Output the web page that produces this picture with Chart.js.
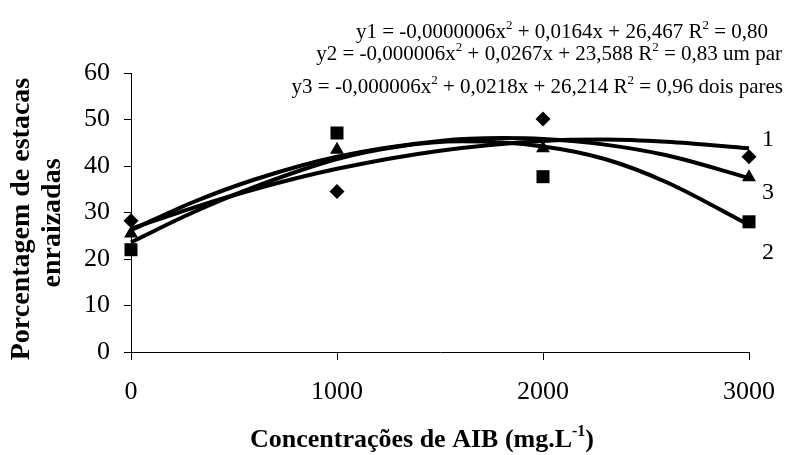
<!DOCTYPE html>
<html lang="pt">
<head>
  <meta charset="UTF-8">
  <title>Porcentagem de estacas enraizadas</title>
  <script src="https://cdn.jsdelivr.net/npm/chart.js"></script>
  <style>
    html, body { margin: 0; padding: 0; background: #fff; }
  </style>
</head>
<body>
  <canvas id="rootChart" width="785" height="455"></canvas>
  <script>
    const doses = [0, 1000, 2000, 3000];
    const semPar = [28.2, 34.5, 50.1, 42.0];     // series 1, diamonds
    const umPar = [22.0, 47.1, 37.7, 28.0];      // series 2, squares
    const doisPares = [25.5, 43.5, 43.8, 37.6];  // series 3, triangles

    // trend curves, sampled from the figure
    const curve1X = [0, 300, 600, 1000, 1500, 2000, 2300, 2600, 3000];
    const curve1 = [26.5, 31.0, 35.0, 39.4, 43.3, 45.4, 45.7, 45.2, 43.8];
    const curve2X = [0, 300, 600, 1000, 1300, 1600, 2000, 2300, 2600, 3000];
    const curve2 = [23.6, 30.0, 35.5, 41.5, 44.2, 45.3, 44.2, 41.5, 36.5, 27.3];
    const curve3X = [0, 300, 600, 1000, 1500, 1800, 2000, 2300, 2600, 3000];
    const curve3 = [26.2, 32.2, 37.1, 42.0, 45.4, 46.0, 45.8, 44.6, 42.3, 37.4];

    const curveNames = ['1', '2', '3'];
    const curveLabelY = [45.6, 21.3, 34.2];

    const xTicks = [0, 1000, 2000, 3000];

    const equations = [
      [['y1 = -0,0000006x'], ['2', true], [' + 0,0164x + 26,467 R'], ['2', true], [' = 0,80']],
      [['y2 = -0,000006x'], ['2', true], [' + 0,0267x + 23,588 R'], ['2', true], [' = 0,83 um par']],
      [['y3 = -0,000006x'], ['2', true], [' + 0,0218x + 26,214 R'], ['2', true], [' = 0,96 dois pares']]
    ];

    const serif = '"Liberation Serif", "Times New Roman", serif';

    function pts(xs, ys) {
      return xs.map((x, i) => ({ x: x, y: ys[i] }));
    }

    function richWidth(ctx, parts, size, bold) {
      const w = bold ? 'bold ' : '';
      let total = 0;
      parts.forEach(p => {
        ctx.font = w + (p[1] ? Math.round(size * 0.62) : size) + 'px ' + serif;
        total += ctx.measureText(p[0]).width;
      });
      return total;
    }

    // draws text pieces with superscripts, starting at x
    function drawRich(ctx, parts, x, y, size, bold) {
      const w = bold ? 'bold ' : '';
      ctx.textAlign = 'left';
      ctx.textBaseline = 'alphabetic';
      parts.forEach(p => {
        ctx.font = w + (p[1] ? Math.round(size * 0.62) : size) + 'px ' + serif;
        ctx.fillText(p[0], x, p[1] ? y - size * 0.42 : y);
        x += ctx.measureText(p[0]).width;
      });
    }

    const annotations = {
      id: 'annotations',
      afterDraw(chart) {
        const ctx = chart.ctx;
        const xs = chart.scales.x, ys = chart.scales.y;
        ctx.save();
        ctx.fillStyle = '#000';

        // equations, right aligned, top right
        const eqRight = [768, 782, 783];
        const eqBase = [38, 60, 93];
        equations.forEach((eq, i) => {
          const w = richWidth(ctx, eq, 21, false);
          drawRich(ctx, eq, eqRight[i] - w, eqBase[i], 21, false);
        });

        // curve numbers
        ctx.font = '24px ' + serif;
        ctx.textAlign = 'left';
        ctx.textBaseline = 'middle';
        curveNames.forEach((n, i) => {
          ctx.fillText(n, xs.getPixelForValue(3000) + 13, ys.getPixelForValue(curveLabelY[i]));
        });

        // x axis title
        const xt = [['Concentrações de AIB (mg.L'], ['-1', true], [')']];
        const tw = richWidth(ctx, xt, 26, true);
        drawRich(ctx, xt, 422 - tw / 2, 447, 26, true);

        // y axis title, two lines rotated
        ctx.translate(0, 219);
        ctx.rotate(-Math.PI / 2);
        ctx.font = 'bold 28px ' + serif;
        ctx.textAlign = 'center';
        ctx.textBaseline = 'middle';
        ctx.fillText('Porcentagem de estacas', 0, 22);
        ctx.fillText('enraizadas', -4, 53);
        ctx.restore();
      }
    };

    const lineStyle = {
      showLine: true,
      borderColor: '#000',
      borderWidth: 4,
      pointRadius: 0,
      cubicInterpolationMode: 'monotone',
      fill: false
    };
    const markStyle = {
      showLine: false,
      backgroundColor: '#000',
      borderColor: '#000',
      borderWidth: 0
    };

    const ctx = document.getElementById('rootChart').getContext('2d');
    new Chart(ctx, {
      type: 'scatter',
      data: {
        datasets: [
          Object.assign({ label: 'curva 1', data: pts(curve1X, curve1) }, lineStyle),
          Object.assign({ label: 'curva 2', data: pts(curve2X, curve2) }, lineStyle),
          Object.assign({ label: 'curva 3', data: pts(curve3X, curve3) }, lineStyle),
          Object.assign({ label: 'sem par', data: pts(doses, semPar), pointStyle: 'rectRot', pointRadius: 7.5 }, markStyle),
          Object.assign({ label: 'um par', data: pts(doses, umPar), pointStyle: 'rect', pointRadius: 9.2 }, markStyle),
          Object.assign({ label: 'dois pares', data: pts(doses, doisPares), pointStyle: 'triangle', pointRadius: 8 }, markStyle)
        ]
      },
      options: {
        responsive: false,
        animation: false,
        clip: false,
        layout: { padding: { top: 73, right: 36, left: 0, bottom: 0 } },
        plugins: {
          legend: { display: false },
          tooltip: { enabled: false }
        },
        scales: {
          x: {
            type: 'linear',
            min: 0,
            max: 3000,
            afterBuildTicks: s => { s.ticks = xTicks.map(v => ({ value: v })); },
            afterFit: s => { s.height = 103; s.paddingLeft = 0; s.paddingRight = 0; },
            border: { color: '#000', width: 1 },
            grid: { drawOnChartArea: false, drawTicks: true, tickLength: 8, color: '#000' },
            ticks: {
              color: '#000',
              padding: 17,
              maxRotation: 0,
              callback: v => String(v),
              font: { family: serif, size: 26 }
            }
          },
          y: {
            min: 0,
            max: 60,
            afterFit: s => { s.width = 131; s.paddingTop = 0; s.paddingBottom = 0; },
            border: { color: '#000', width: 1 },
            grid: { drawOnChartArea: false, drawTicks: true, tickLength: 7, color: '#000' },
            ticks: {
              stepSize: 10,
              color: '#000',
              padding: 14,
              font: { family: serif, size: 26 }
            }
          }
        }
      },
      plugins: [annotations]
    });
  </script>
</body>
</html>
